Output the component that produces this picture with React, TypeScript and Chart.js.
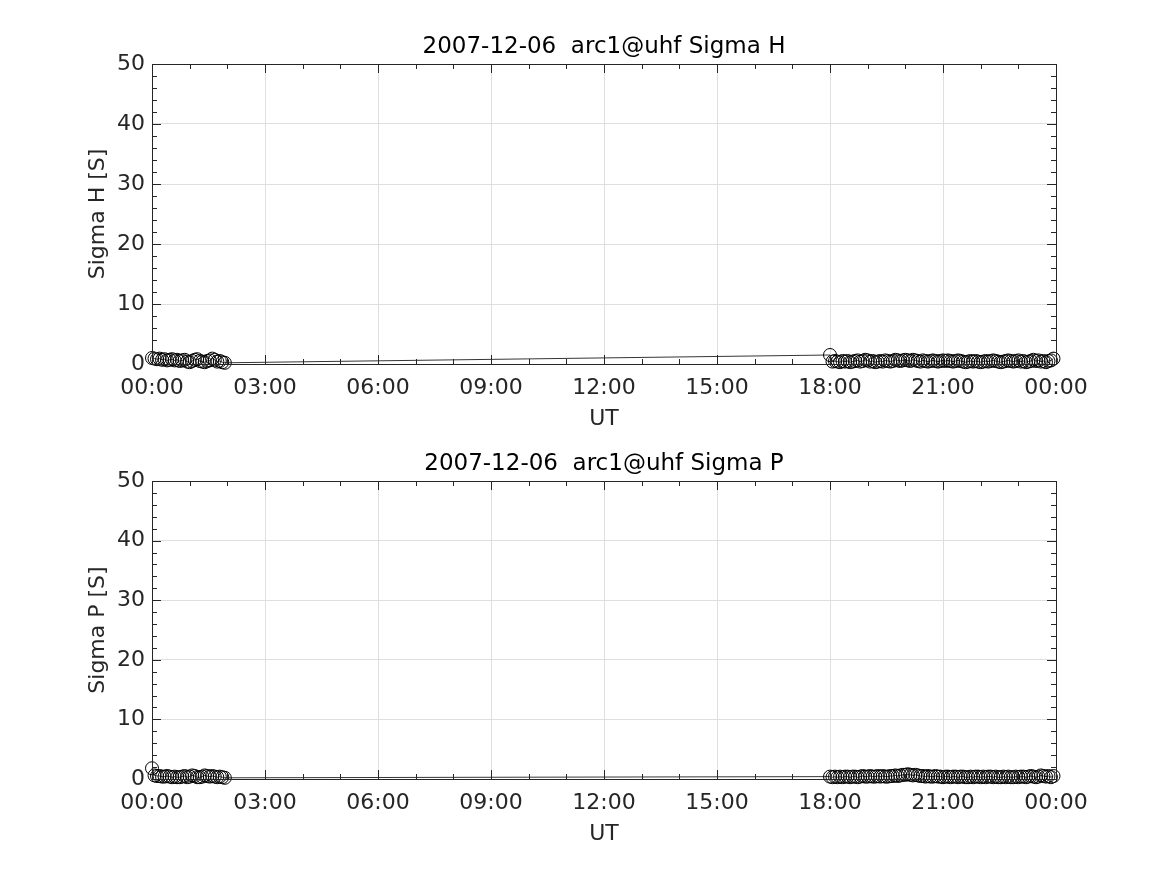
import React, { useEffect, useRef } from "react";
import { Chart, registerables } from "chart.js";

Chart.register(...registerables);

const DATE = "2007-12-06";
const RADAR = "arc1@uhf";

// minutes after 00:00 UT
const minutesMorning = [0, 4, 8, 12, 16, 20, 24, 28, 32, 36, 40, 44, 48, 52, 56, 60, 64, 68, 72, 76, 80, 84, 88, 92, 96, 100, 104, 108, 112, 116];
const minutesEvening = [1080, 1084, 1088, 1092, 1096, 1100, 1104, 1108, 1112, 1116, 1120, 1124, 1128, 1132, 1136, 1140, 1144, 1148, 1152, 1156, 1160, 1164, 1168, 1172, 1176, 1180, 1184, 1188, 1192, 1196, 1200, 1204, 1208, 1212, 1216, 1220, 1224, 1228, 1232, 1236, 1240, 1244, 1248, 1252, 1256, 1260, 1264, 1268, 1272, 1276, 1280, 1284, 1288, 1292, 1296, 1300, 1304, 1308, 1312, 1316, 1320, 1324, 1328, 1332, 1336, 1340, 1344, 1348, 1352, 1356, 1360, 1364, 1368, 1372, 1376, 1380, 1384, 1388, 1392, 1396, 1400, 1404, 1408, 1412, 1416, 1420, 1424, 1428, 1432, 1436];

const sigmaHMorning = [1.0, 0.9, 0.8, 0.9, 0.7, 0.8, 0.6, 0.7, 0.8, 0.6, 0.7, 0.5, 0.6, 0.7, 0.4, 0.3, 0.5, 0.7, 0.8, 0.5, 0.4, 0.3, 0.5, 0.6, 0.9, 0.7, 0.4, 0.5, 0.3, 0.2];
const sigmaHEvening = [1.5, 0.4, 0.5, 0.4, 0.3, 0.5, 0.4, 0.5, 0.3, 0.4, 0.5, 0.6, 0.4, 0.5, 0.7, 0.6, 0.4, 0.5, 0.3, 0.4,
  0.5, 0.4, 0.6, 0.5, 0.4, 0.5, 0.7, 0.6, 0.5, 0.6, 0.7, 0.6, 0.5, 0.7, 0.6, 0.5, 0.4, 0.6, 0.5, 0.4,
  0.5, 0.6, 0.5, 0.4, 0.5, 0.6, 0.5, 0.6, 0.5, 0.4, 0.5, 0.6, 0.5, 0.4, 0.3, 0.4, 0.5, 0.4, 0.5, 0.4,
  0.3, 0.4, 0.5, 0.4, 0.5, 0.6, 0.5, 0.4, 0.3, 0.4, 0.5, 0.6, 0.5, 0.4, 0.5, 0.6, 0.4, 0.5, 0.3, 0.4,
  0.5, 0.7, 0.5, 0.6, 0.4, 0.5, 0.3, 0.5, 0.6, 0.9];

const sigmaPMorning = [1.8, 0.6, 0.5, 0.5, 0.4, 0.4, 0.5, 0.4, 0.3, 0.4, 0.3, 0.3, 0.4, 0.5, 0.3, 0.4, 0.6, 0.5, 0.3, 0.3, 0.4, 0.6, 0.5, 0.4, 0.5, 0.4, 0.3, 0.4, 0.3, 0.2];
const sigmaPEvening = [0.4, 0.3, 0.4, 0.3, 0.4, 0.3, 0.4, 0.4, 0.3, 0.4, 0.4, 0.3, 0.4, 0.5, 0.4, 0.4, 0.5, 0.4, 0.4, 0.5,
  0.4, 0.5, 0.4, 0.4, 0.5, 0.5, 0.6, 0.5, 0.6, 0.7, 0.7, 0.8, 0.7, 0.6, 0.7, 0.6, 0.5, 0.5, 0.4, 0.5,
  0.4, 0.4, 0.5, 0.4, 0.4, 0.3, 0.4, 0.4, 0.3, 0.4, 0.4, 0.3, 0.4, 0.4, 0.3, 0.3, 0.4, 0.3, 0.4, 0.4,
  0.3, 0.4, 0.3, 0.4, 0.4, 0.3, 0.4, 0.3, 0.3, 0.4, 0.3, 0.4, 0.3, 0.3, 0.4, 0.3, 0.4, 0.4, 0.3, 0.4,
  0.5, 0.4, 0.3, 0.4, 0.6, 0.5, 0.4, 0.5, 0.3, 0.5];

const xTickHours = [0, 3, 6, 9, 12, 15, 18, 21, 24];
const xTickLabels = ["00:00", "03:00", "06:00", "09:00", "12:00", "15:00", "18:00", "21:00", "00:00"];
const yTicks = [0, 10, 20, 30, 40, 50];

const FONT = "'DejaVu Sans', sans-serif";
const TEXT = "#262626";

function toPoints(mins: number[], vals: number[]) {
  return mins.map((m, i) => ({ x: m / 60, y: vals[i] }));
}

const boxPlugin = {
  id: "matlabBox",
  afterDraw(chart: any) {
    const { ctx, chartArea } = chart;
    const { left, right, top, bottom } = chartArea;
    const xs = chart.scales.x;
    const ys = chart.scales.y;
    ctx.save();
    ctx.strokeStyle = "#262626";
    ctx.lineWidth = 1;
    ctx.beginPath();
    for (let h = 0; h <= 24; h += 1) {
      const px = Math.round(xs.getPixelForValue(h)) + 0.5;
      const len = h % 3 === 0 ? 9 : 5;
      ctx.moveTo(px, bottom);
      ctx.lineTo(px, bottom - len);
      ctx.moveTo(px, top);
      ctx.lineTo(px, top + len);
    }
    for (let v = 0; v <= 50; v += 2) {
      const py = Math.round(ys.getPixelForValue(v)) + 0.5;
      const len = v % 10 === 0 ? 9 : 5;
      ctx.moveTo(left, py);
      ctx.lineTo(left + len, py);
      ctx.moveTo(right, py);
      ctx.lineTo(right - len, py);
    }
    ctx.stroke();
    ctx.strokeRect(Math.round(left) + 0.5, Math.round(top) + 0.5, Math.round(right - left), Math.round(bottom - top));
    const title = chart.options.plugins.customTitle.text;
    ctx.fillStyle = "#000";
    ctx.font = `23px ${FONT}`;
    ctx.textAlign = "center";
    ctx.textBaseline = "middle";
    ctx.fillText(title, (left + right) / 2, top - 17);
    ctx.restore();
  },
};

function makeConfig(title: string, yLabel: string, mins1: number[], v1: number[], mins2: number[], v2: number[], padTop: number, padBottom: number): any {
  const data = [...toPoints(mins1, v1), ...toPoints(mins2, v2)];
  return {
    type: "line",
    data: {
      datasets: [
        {
          data,
          borderColor: "#000",
          borderWidth: 0.8,
          pointStyle: "circle",
          pointRadius: 6.5,
          pointBorderWidth: 1,
          pointBorderColor: "#000",
          pointBackgroundColor: "rgba(0,0,0,0)",
          fill: false,
          tension: 0,
          clip: 12,
        },
      ],
    },
    options: {
      responsive: false,
      animation: false,
      events: [],
      layout: { padding: { left: 85, right: 111, top: padTop, bottom: padBottom } },
      plugins: {
        legend: { display: false },
        tooltip: { enabled: false },
        title: { display: false },
        customTitle: { text: title },
      },
      scales: {
        x: {
          type: "linear",
          min: 0,
          max: 24,
          afterBuildTicks: (scale: any) => {
            scale.ticks = xTickHours.map((v) => ({ value: v }));
          },
          afterFit: (scale: any) => {
            scale.height = 68;
          },
          ticks: {
            autoSkip: false,
            maxRotation: 0,
            padding: 11,
            color: TEXT,
            font: { family: FONT, size: 22 },
            callback: (v: number) => xTickLabels[xTickHours.indexOf(v)] ?? "",
          },
          grid: { color: "#dfdfdf", lineWidth: 1, drawTicks: false },
          border: { display: false },
          title: {
            display: true,
            text: "UT",
            color: TEXT,
            font: { family: FONT, size: 22 },
            padding: 0,
          },
        },
        y: {
          type: "linear",
          min: 0,
          max: 50,
          afterBuildTicks: (scale: any) => {
            scale.ticks = yTicks.map((v) => ({ value: v }));
          },
          afterFit: (scale: any) => {
            scale.width = 67;
          },
          ticks: {
            padding: 7,
            color: TEXT,
            font: { family: FONT, size: 22 },
          },
          grid: { color: "#dfdfdf", lineWidth: 1, drawTicks: false },
          border: { display: false },
          title: {
            display: true,
            text: yLabel,
            color: TEXT,
            font: { family: FONT, size: 22 },
            padding: 0,
          },
        },
      },
    },
    plugins: [boxPlugin],
  };
}

function Panel(props: { top: number; height: number; config: any }) {
  const ref = useRef<HTMLCanvasElement | null>(null);
  useEffect(() => {
    if (!ref.current) return;
    const chart = new Chart(ref.current, props.config);
    return () => chart.destroy();
  }, []);
  return (
    <canvas
      ref={ref}
      width={1167}
      height={props.height}
      style={{ position: "absolute", left: 0, top: props.top, width: 1167, height: props.height }}
    />
  );
}

export default function App() {
  const cfgH = makeConfig(`${DATE}  ${RADAR} Sigma H`, "Sigma H [S]", minutesMorning, sigmaHMorning, minutesEvening, sigmaHEvening, 64, 5);
  const cfgP = makeConfig(`${DATE}  ${RADAR} Sigma P`, "Sigma P [S]", minutesMorning, sigmaPMorning, minutesEvening, sigmaPEvening, 44, 28);
  return (
    <div style={{ position: "absolute", left: 0, top: 0, width: 1167, height: 875, background: "#fff" }}>
      <Panel top={0} height={437} config={cfgH} />
      <Panel top={437} height={438} config={cfgP} />
    </div>
  );
}
